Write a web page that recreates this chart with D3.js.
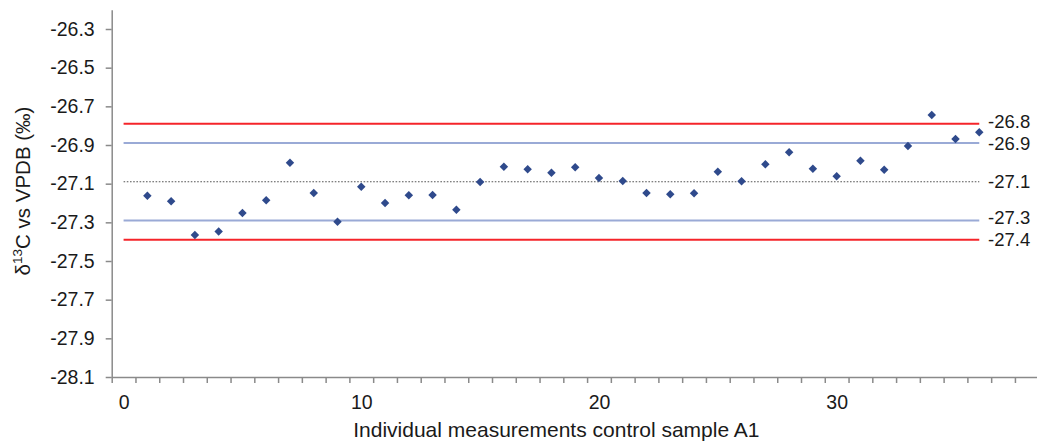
<!DOCTYPE html>
<html>
<head>
<meta charset="utf-8">
<script src="https://cdn.jsdelivr.net/npm/d3@7"></script>
<style>
  html, body { margin: 0; padding: 0; background: #fff; }
  svg { display: block; font-family: "Liberation Sans", Arial, sans-serif; }
</style>
</head>
<body>
<svg id="chart" width="1037" height="441"></svg>
<script>
// Measurement number (category index) and δ13C result of control sample A1
const measurement = [1, 2, 3, 4, 5, 6, 7, 8, 9, 10, 11, 12, 13, 14, 15, 16, 17, 18,
                     19, 20, 21, 22, 23, 24, 25, 26, 27, 28, 29, 30, 31, 32, 33, 34, 35, 36];
const delta13C = [-27.162, -27.191, -27.366, -27.348, -27.252, -27.186, -26.992, -27.148, -27.297,
                  -27.116, -27.200, -27.160, -27.159, -27.235, -27.091, -27.012, -27.026, -27.043,
                  -27.015, -27.071, -27.086, -27.148, -27.155, -27.150, -27.038, -27.088, -27.000,
                  -26.938, -27.023, -27.062, -26.981, -27.028, -26.905, -26.745, -26.869, -26.834];

// Control chart lines: upper action, upper warning, mean, lower warning, lower action
const controlValues = [-26.79, -26.89, -27.09, -27.29, -27.39];
const controlKinds  = ["action", "warning", "mean", "warning", "action"];
const controlSpan   = [0, 36];

// Axis ticks
const yTickValues  = [-26.3, -26.5, -26.7, -26.9, -27.1, -27.3, -27.5, -27.7, -27.9, -28.1];
const xTickLabels  = [0, 10, 20, 30];
const xTickMarks   = [-0.5, 0.5, 1.5, 2.5, 3.5, 4.5, 5.5, 6.5, 7.5, 8.5, 9.5, 10.5, 11.5, 12.5,
                      13.5, 14.5, 15.5, 16.5, 17.5, 18.5, 19.5, 20.5, 21.5, 22.5, 23.5, 24.5,
                      25.5, 26.5, 27.5, 28.5, 29.5, 30.5, 31.5, 32.5, 33.5, 34.5, 35.5, 36.5,
                      37.5, 38.5];
const xDomain = [-0.5, 38.5];
const yDomain = [-28.1, -26.2];

const svg = d3.select("#chart");
const x = d3.scaleLinear().domain(xDomain).range([111.7, 1038.7]);
const y = d3.scaleLinear().domain(yDomain).range([377, 9.67]);

const lineStyle = {
  action:  { stroke: "#f5242a", width: 2,   dash: null },
  warning: { stroke: "#9aaad6", width: 2,   dash: null },
  mean:    { stroke: "#555555", width: 1.2, dash: "1.6,1.6" }
};

// Horizontal control lines
svg.append("g").selectAll("line")
  .data(controlValues)
  .join("line")
  .attr("x1", x(controlSpan[0]))
  .attr("x2", x(controlSpan[1]))
  .attr("y1", d => y(d))
  .attr("y2", d => y(d))
  .attr("stroke", (d, i) => lineStyle[controlKinds[i]].stroke)
  .attr("stroke-width", (d, i) => lineStyle[controlKinds[i]].width)
  .attr("stroke-dasharray", (d, i) => lineStyle[controlKinds[i]].dash);

// Labels for the control lines; labels that would collide are nudged apart
const labelFont = 18.5;
const minGap = 22;
const labelY = controlValues.map(v => y(v));
for (let i = labelY.length - 2; i >= 0; i--) {
  if (labelY[i + 1] - labelY[i] < minGap) labelY[i] = labelY[i + 1] - minGap;
}
svg.append("g").selectAll("text")
  .data(controlValues)
  .join("text")
  .attr("x", 988)
  .attr("y", (d, i) => labelY[i])
  .attr("dy", "0.36em")
  .attr("font-size", labelFont)
  .attr("fill", "#1a1a1a")
  .text(d => d.toFixed(1));

// Diamond markers for each measurement
const diamond = {
  draw(ctx, size) {
    const r = Math.sqrt(size / 2);
    ctx.moveTo(0, -r); ctx.lineTo(r, 0); ctx.lineTo(0, r); ctx.lineTo(-r, 0); ctx.closePath();
  }
};
svg.append("g").selectAll("path")
  .data(measurement)
  .join("path")
  .attr("transform", (d, i) => `translate(${x(d)},${y(delta13C[i])})`)
  .attr("d", d3.symbol().type(diamond).size(36))
  .attr("fill", "#2f4a8c");

// Axes
const axisColor = "#8a8a8a";

const yAxis = svg.append("g")
  .attr("transform", `translate(${x(xDomain[0])},0)`)
  .call(d3.axisLeft(y).tickValues(yTickValues).tickSize(6).tickSizeOuter(0)
        .tickPadding(11).tickFormat(d => d.toFixed(1)));

const xAxis = svg.append("g")
  .attr("transform", `translate(0,${y(yDomain[0])})`)
  .call(d3.axisBottom(x).tickValues(xTickMarks).tickSize(6).tickSizeOuter(0).tickFormat(""));

const xLabels = svg.append("g")
  .attr("transform", `translate(0,${y(yDomain[0])})`)
  .call(d3.axisBottom(x).tickValues(xTickLabels).tickSize(0).tickPadding(18).tickFormat(d3.format("d")));
xLabels.select(".domain").remove();

[yAxis, xAxis].forEach(g => {
  g.select(".domain").attr("stroke", axisColor).attr("stroke-width", 1.5);
  g.selectAll(".tick line").attr("stroke", axisColor).attr("stroke-width", 1.5);
});
[yAxis, xLabels].forEach(g => {
  g.selectAll(".tick text")
    .attr("font-family", "Liberation Sans, Arial, sans-serif")
    .attr("font-size", 19.5)
    .attr("fill", "#1a1a1a");
});

// Axis titles
svg.append("text")
  .attr("x", (x(xDomain[0]) + 1037) / 2 - 18)
  .attr("y", 437)
  .attr("text-anchor", "middle")
  .attr("font-size", 21)
  .attr("fill", "#1a1a1a")
  .text("Individual measurements control sample A1");

const yTitle = svg.append("text")
  .attr("transform", "translate(29.5,191) rotate(-90)")
  .attr("text-anchor", "middle")
  .attr("font-size", 20.5)
  .attr("fill", "#1a1a1a");
yTitle.append("tspan").text("δ");
yTitle.append("tspan").attr("font-size", 13.5).attr("dy", -8).text("13");
yTitle.append("tspan").attr("dy", 8).text("C vs VPDB (‰)");
</script>
</body>
</html>
